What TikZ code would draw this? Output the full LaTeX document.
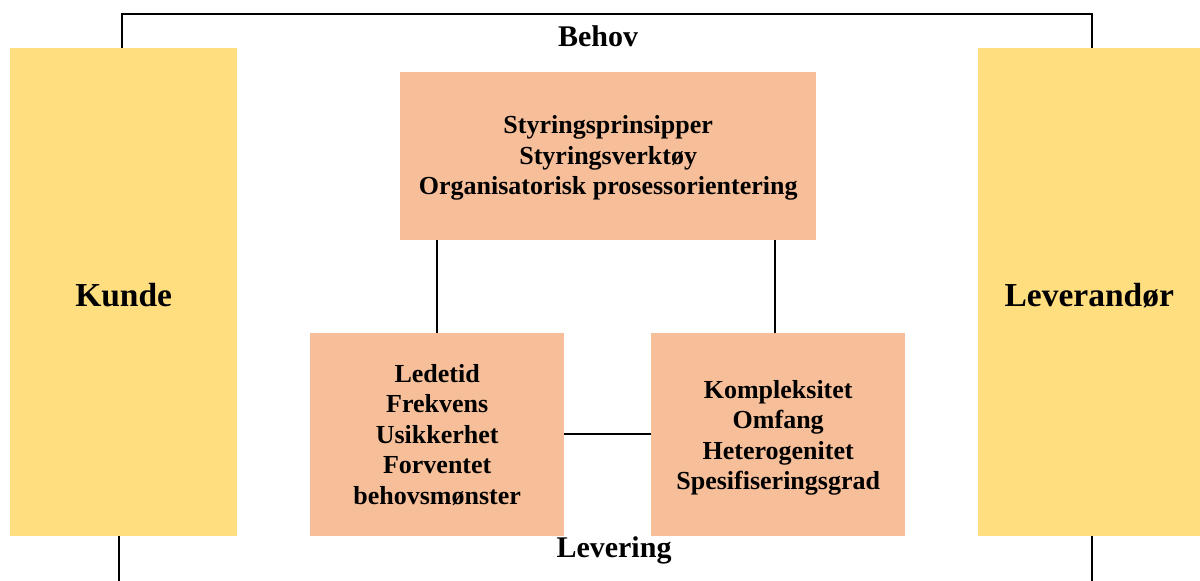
\documentclass[tikz,border=0pt]{standalone}
\usepackage{fontspec}
\setmainfont{Liberation Serif}
\definecolor{partyfill}{RGB}{255,222,128}
\definecolor{factorfill}{RGB}{247,191,153}
\begin{document}
\begin{tikzpicture}[x=1pt,y=-1pt,
  party/.style={fill=partyfill, draw=none, inner sep=0pt, anchor=north west},
  partytext/.style={inner sep=0pt, font=\fontsize{33.5}{36}\selectfont\bfseries},
  factor/.style={fill=factorfill, draw=none, inner sep=0pt, anchor=north west},
  factortext/.style={inner sep=0pt, align=center, font=\fontsize{26}{30.5}\selectfont\bfseries},
  flowlabel/.style={font=\fontsize{30}{32}\selectfont\bfseries, inner sep=0pt, anchor=base},
  link/.style={line width=2pt, black}]
  \useasboundingbox (0,0) rectangle (1200,581);

  % customer and supplier columns
  \node[party, minimum width=227pt, minimum height=488pt] (kunde) at (10,48) {};
  \node[party, minimum width=222pt, minimum height=488pt] (lev) at (978,48) {};
  \node[partytext] (kundetxt) at ([yshift=-3pt]kunde.center) {Kunde};
  \node[partytext] (levtxt) at ([yshift=-3pt]lev.center) {Leverandør};

  % management factors
  \node[factor, minimum width=416pt, minimum height=168pt] (styring) at (400,72) {};
  \node[factor, minimum width=254pt, minimum height=203pt] (behov) at (310,333) {};
  \node[factor, minimum width=254pt, minimum height=203pt] (prod) at (651,333) {};
  \node[factortext] (styringtxt) at ([yshift=-2pt]styring.center)
    {Styringsprinsipper\\Styringsverktøy\\Organisatorisk prosessorientering};
  \node[factortext] (behovtxt) at ([yshift=0pt]behov.center)
    {Ledetid\\Frekvens\\Usikkerhet\\Forventet\\behovsmønster};
  \node[factortext] (prodtxt) at ([yshift=-3pt]prod.center)
    {Kompleksitet\\Omfang\\Heterogenitet\\Spesifiseringsgrad};

  % flow labels
  \node[flowlabel] (behovlbl) at (598,46) {Behov};
  \node[flowlabel] (levlbl) at (614,557) {Levering};

  % frame of need and delivery flows
  \coordinate (tl) at (122,14);
  \coordinate (tr) at (1092,14);
  \coordinate (bl) at (119,581);
  \coordinate (br) at (1092,581);
  \draw[link] (kunde.north -| tl) -- (tl) -- (tr) -- (lev.north -| tr);
  \draw[link] (kunde.south -| bl) -- (bl);
  \draw[link] (lev.south -| br) -- (br);

  % links between factors
  \draw[link] (styring.south -| 437,0) -- (behov.north -| 437,0);
  \draw[link] (styring.south -| 775,0) -- (prod.north -| 775,0);
  \draw[link] (behov.east |- 0,434) -- (prod.west |- 0,434);
\end{tikzpicture}
\end{document}
